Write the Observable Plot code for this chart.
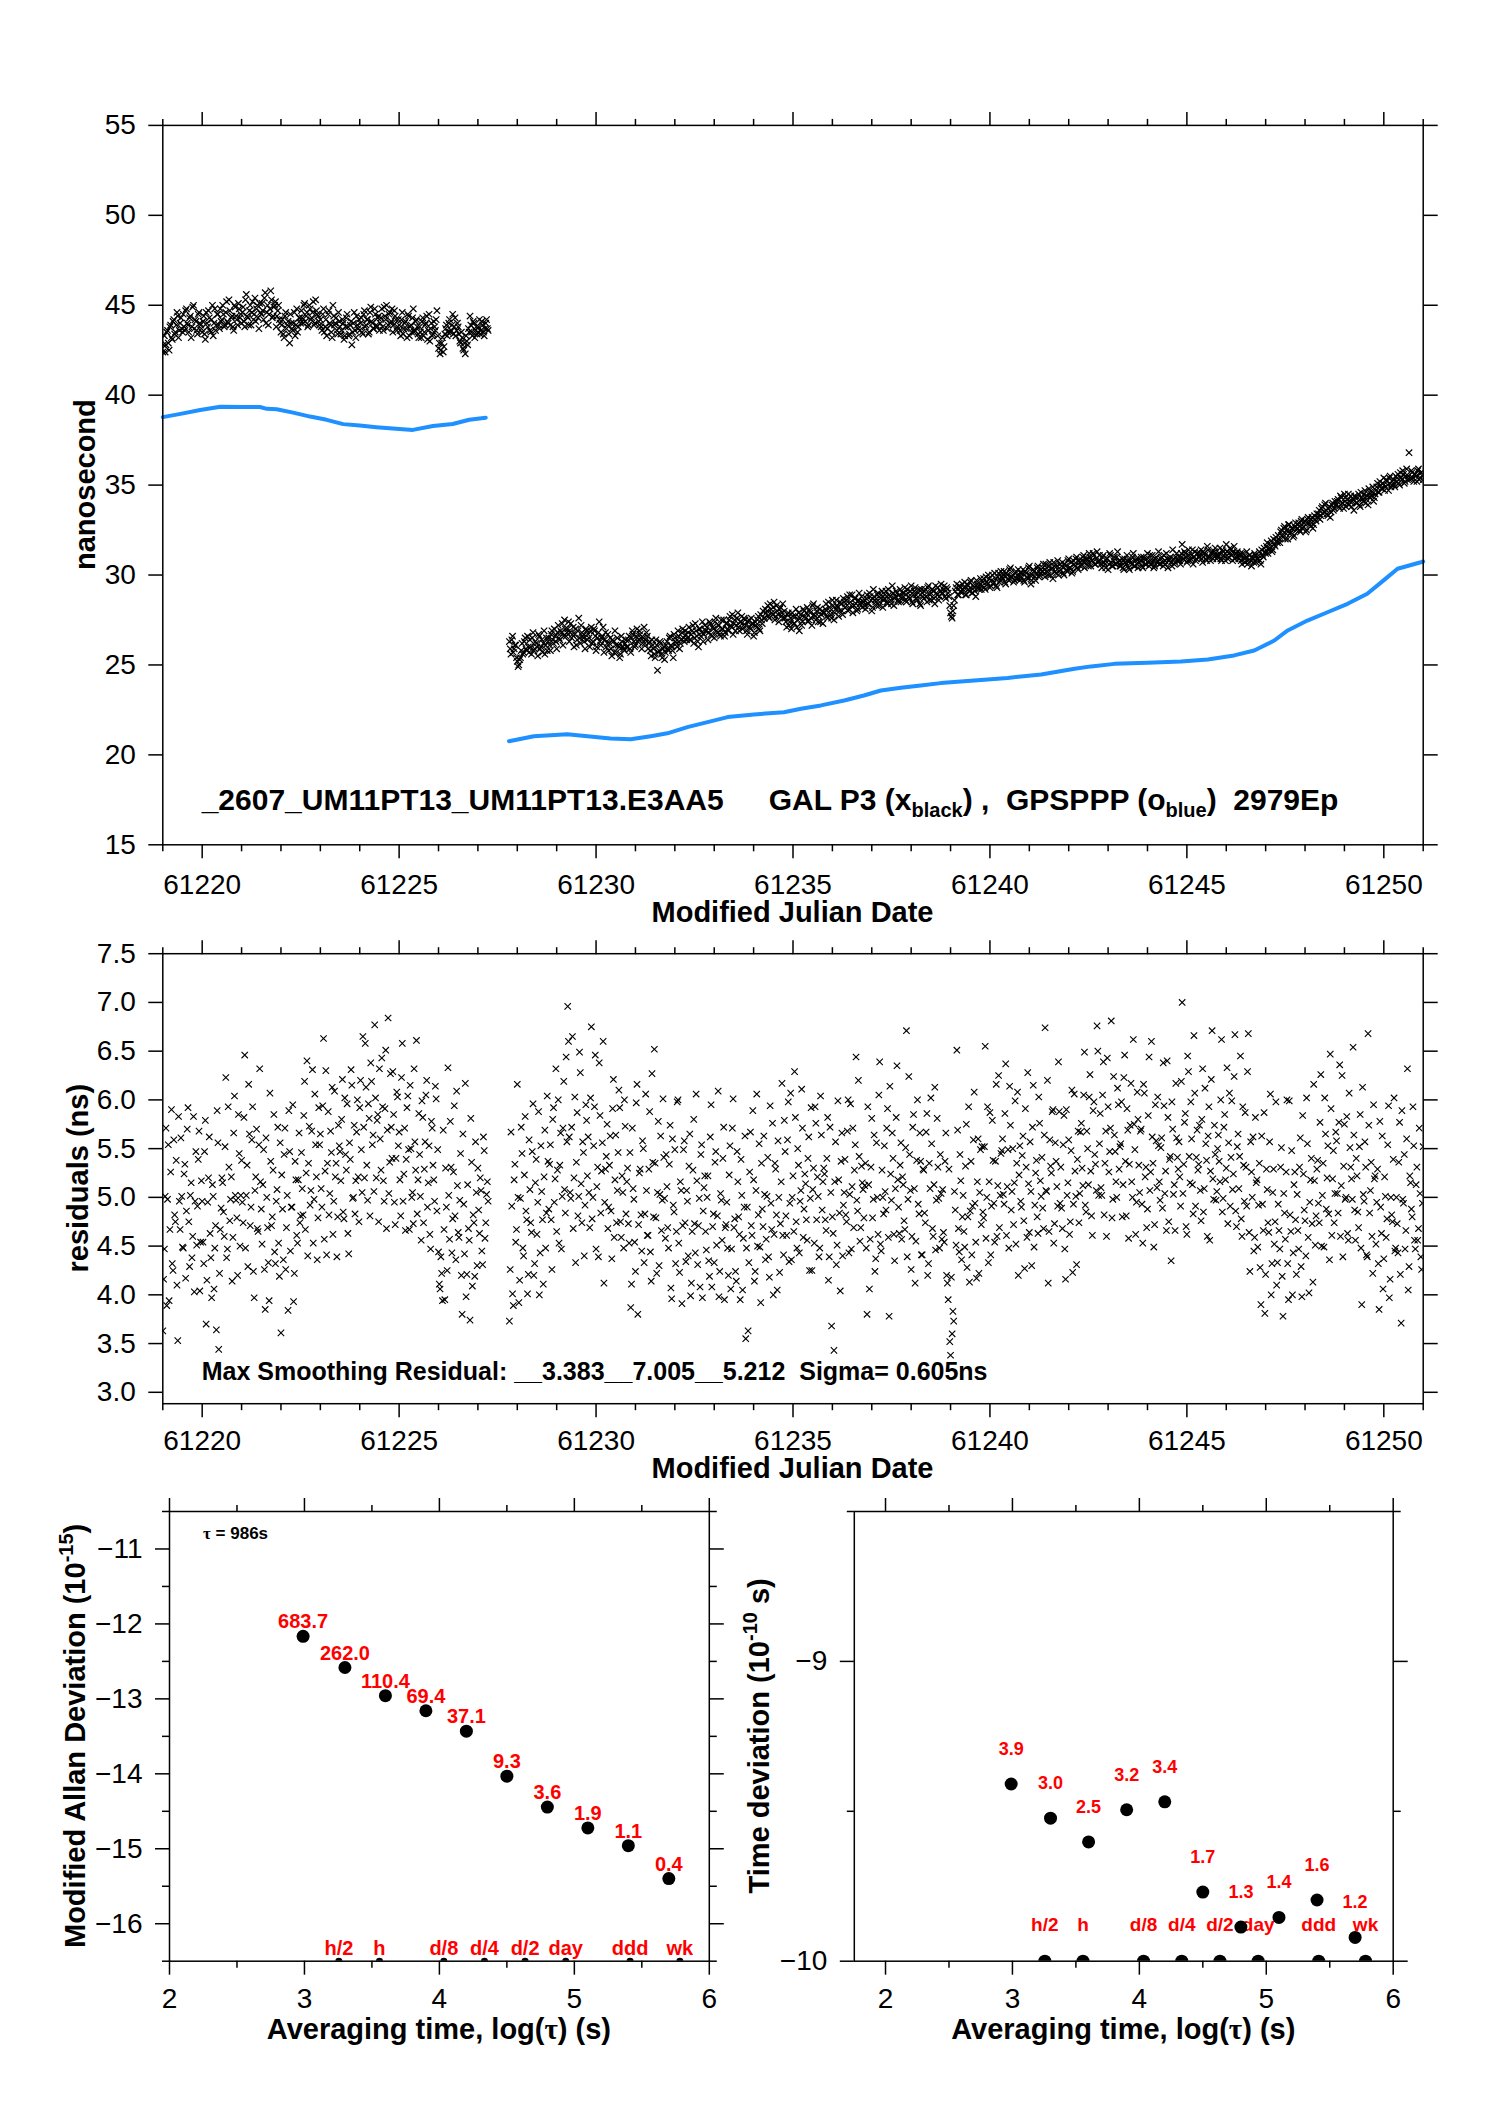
<!DOCTYPE html>
<html><head><meta charset="utf-8">
<script src="https://cdn.jsdelivr.net/npm/d3@7"></script>
<script src="https://cdn.jsdelivr.net/npm/@observablehq/plot@0.6"></script>
<style>
html,body{margin:0;padding:0;background:#fff;}
#page{position:relative;width:1488px;height:2105px;background:#fff;overflow:hidden;}
#page svg{position:absolute;overflow:visible;}
</style></head><body><div id="page"></div>
<script>
// ---------------- DATA ----------------
const sampleStep = 0.04;           // days between samples of one series
const interleave = 0.02;           // second sample set sits halfway between
const seg1Start = 61219.00;
const seg2Start = 61227.80;

// residuals (ns), segment 1 and segment 2 (set A)
const resid1 = [
3.63,4.47,5.71,4.98,3.94,5.26,4.32,5.59,4.75,4.10,5.83,4.67,5.01,4.48,5.34,4.86,5.92,4.29,5.15,4.60,4.03,5.47,4.91,5.68,4.54,
4.96,4.32,5.79,4.15,5.20,4.63,3.97,5.01,4.48,3.64,5.56,4.22,4.89,5.15,4.60,6.23,4.47,5.31,4.98,4.14,5.66,5.02,4.79,5.85,4.50,
5.38,4.74,6.46,5.02,4.29,5.65,4.90,5.93,3.97,5.21,4.68,5.54,5.16,4.52,5.49,3.85,5.00,4.33,6.07,4.71,5.28,4.44,4.96,5.72,4.19,
3.61,4.88,5.44,4.26,5.02,5.89,4.45,4.90,3.93,5.37,4.61,5.18,4.74,5.46,4.82,6.19,5.25,4.40,5.73,5.07,6.31,4.98,5.54,4.36,5.92,
5.65,4.90,6.63,5.27,4.41,5.88,5.04,5.46,4.62,6.09,5.35,4.80,5.53,5.17,6.21,4.78,5.44,5.96,4.42,5.39,6.15,5.00,4.83,5.67,5.21,
5.92,5.49,6.65,5.20,6.13,4.97,5.81,6.38,5.54,5.06,6.02,5.79,4.75,5.60,6.43,5.17,5.91,4.68,6.84,5.36,5.72,6.29,4.95,5.40,6.03,
5.67,4.81,6.58,5.24,4.66,5.92,5.49,6.15,5.00,4.73,5.57,6.61,5.18,5.44,4.56,5.82,5.29,6.05,4.90,5.53,4.47,5.71,5.18,6.14,4.86,
4.44,4.06,4.22,5.69,3.95,4.90,6.33,4.57,5.31,4.78,5.94,4.36,5.12,4.59,5.45,3.80,4.93,6.17,4.21,4.68,3.74,5.36,4.82,4.19,5.05,
5.30,4.63,5.07,4.31,5.48,4.74,5.16];
const resid2 = [
3.73,5.67,4.01,5.18,4.54,6.16,3.92,4.99,5.45,4.40,5.83,4.77,4.21,5.08,4.64,5.96,4.32,5.39,4.95,4.00,5.53,4.77,5.21,4.48,6.04,
4.88,5.54,4.26,5.92,5.19,4.65,6.00,5.33,4.47,5.71,5.08,6.44,6.96,5.62,4.99,6.65,5.20,4.33,5.87,5.01,6.28,4.74,5.46,4.92,5.79,
5.62,4.69,6.75,5.00,5.93,4.47,5.31,6.38,4.84,5.56,4.12,5.29,5.75,4.90,5.63,4.37,6.21,5.18,4.74,5.46,5.92,4.59,5.05,6.00,4.83,
5.30,4.53,3.87,5.71,4.98,4.24,6.16,4.72,5.29,4.45,5.50,4.83,5.07,4.61,5.88,4.14,5.36,6.52,4.79,5.05,4.30,5.63,4.97,5.41,4.58,
5.11,4.48,5.74,3.96,4.92,5.49,4.65,6.00,4.23,5.07,4.71,5.58,4.34,4.96,5.32,3.99,4.65,5.80,4.43,5.17,4.71,4.08,5.54,4.86,5.22,
4.46,5.22,4.19,5.95,4.70,4.33,5.47,4.81,3.98,5.04,4.56,5.72,4.69,4.95,4.20,5.53,4.47,6.01,4.78,4.14,5.16,4.62,5.39,4.05,4.90,
3.55,4.90,4.33,5.67,4.61,5.18,4.24,6.06,4.82,4.49,5.35,4.70,5.03,4.57,5.41,4.18,4.94,5.76,4.62,5.29,4.05,5.00,4.73,6.17,4.41,
5.47,4.61,5.98,4.94,4.36,5.22,6.29,4.75,5.50,4.43,5.07,5.71,4.88,5.14,4.56,5.62,4.99,4.25,5.30,5.93,4.77,5.01,4.48,5.64,5.16,
5.24,4.66,5.82,4.39,5.05,4.80,3.43,5.57,4.51,5.18,4.04,5.66,4.92,5.39,4.75,6.00,5.03,4.47,5.71,5.28,6.44,4.86,5.42,4.69,5.15,
4.79,5.35,3.80,5.13,4.57,5.81,4.98,4.24,5.56,4.62,6.39,4.45,5.00,5.53,4.87,5.91,3.78,5.24,5.66,4.62,5.09,6.35,4.90,5.33,4.57,
5.13,4.67,6.71,4.98,5.44,4.26,5.72,5.09,4.55,6.00,4.83,5.37,4.41,5.28,4.74,5.86,4.32,5.09,5.55,4.60,6.13,4.97,5.31,4.48,5.04,
5.08,4.54,5.66,4.12,5.29,3.38,3.60,3.73,4.87,6.51,4.68,5.44,4.36,5.02,4.49,5.75,4.80,4.13,5.37,4.91,6.08,4.54,5.16,4.22,5.49,
5.52,4.79,6.55,5.00,4.33,5.87,4.91,5.38,4.54,6.16,5.12,4.69,5.45,5.60,4.93,6.37,5.11,4.48,5.74,5.06,4.72,5.99,5.35,4.20,5.53,
4.90,5.63,4.27,5.31,6.28,4.64,5.06,5.72,4.49,5.25,4.80,6.03,5.17,5.41,4.68,6.74,5.06,4.12,5.59,5.25,5.90,4.73,5.37,4.91,5.88,
5.31,4.68,5.84,4.16,5.02,5.59,4.75,6.10,4.93,5.27,4.31,5.68,5.04,5.76,5.12,6.49,4.85,5.50,6.03,5.27,4.61,5.98,5.34,6.76,5.02,
5.86,5.02,6.39,5.35,4.60,5.93,5.47,6.81,4.98,5.64,5.16,6.12,5.29,5.55,4.80,6.23,5.37,5.91,4.58,5.74,5.16,6.62,5.49,4.95,5.80,
5.05,5.70,4.53,6.07,5.31,4.88,6.44,5.26,5.62,4.49,5.95,5.10,5.53,4.97,5.61,6.38,5.04,4.66,5.82,5.39,4.35,5.70,5.13,6.17,5.41,
5.57,4.91,7.00,5.34,5.86,4.62,6.29,5.15,5.60,4.83,6.07,5.41,5.28,5.74,4.76,6.32,5.09,5.55,4.60,5.93,5.27,6.71,4.98,5.44,5.06,
5.64,5.16,6.62,4.99,5.85,5.30,4.73,6.07,5.41,5.08,6.24,4.86,5.52,5.09,6.45,4.60,5.33,5.87,4.91,6.68,4.24,5.26,5.62,4.59,5.15,
4.49,5.35,3.90,4.93,5.87,4.21,5.08,4.64,6.06,4.32,5.29,4.75,4.10,4.93,4.47,5.51,3.78,4.84,5.26,4.32,5.99,4.65,4.00,5.13,4.77,
5.03,4.47,5.61,3.98,5.24,4.76,6.02,4.59,4.95,5.40,4.13,5.17,4.81,5.38,4.74,6.26,5.02,4.49,5.65,5.20,4.83,6.47,4.61,5.48,5.04,
5.58,4.84,6.36,5.12,4.39,5.75,5.00,4.63,6.07,5.31,4.98,5.64,4.56,5.22,4.69,5.85,3.90,5.03,5.57,4.41,6.68,4.84,5.36,4.22,5.19,
4.52,5.29,3.85,4.90,5.63,4.37,5.01,4.78,5.94,4.16,4.82,5.39,4.45,5.00,4.43,5.77,3.71,4.98,5.44,4.66,6.32,4.29,5.15,4.80,5.53,
4.47,5.31,4.68,5.04,4.26,5.52];
// residuals, set B (interleaved samples)
const resid1b = [
4.16,5.01,3.89,5.54,4.67,5.90,4.25,4.82,5.38,3.53,4.96,5.61,4.49,5.24,4.17,5.70,4.75,5.02,4.38,5.83,4.96,4.51,5.39,4.04,5.17,
4.54,5.47,3.70,4.95,5.62,4.38,5.13,4.06,4.71,5.89,3.44,4.67,5.20,4.85,5.52,4.38,5.93,4.76,5.21,4.59,6.04,4.97,4.20,5.45,5.02,
4.95,5.82,4.48,5.33,6.16,4.71,5.59,4.24,5.07,5.70,4.65,6.32,4.88,5.13,4.26,5.61,4.69,3.94,5.37,4.80,5.85,4.32,5.08,4.53,5.56,
5.23,4.36,5.71,4.69,3.84,5.47,4.90,5.95,4.22,5.18,4.53,5.66,4.81,5.09,5.84,4.67,6.40,5.35,4.92,5.68,4.53,6.06,5.21,4.79,5.54,
5.09,5.94,4.57,6.30,5.35,4.82,5.68,6.13,4.96,5.21,4.39,5.74,5.47,5.80,4.85,6.02,5.28,4.63,5.56,6.31,4.99,5.74,5.17,6.00,4.75,
6.20,5.05,5.72,6.58,5.33,5.96,4.81,6.19,5.64,6.77,5.20,5.85,6.32,5.28,5.93,4.96,6.51,5.69,5.04,6.27,5.40,5.85,4.72,6.08,5.53,
5.18,6.23,4.96,5.71,5.39,6.04,4.67,5.50,5.05,6.32,5.28,4.83,5.86,5.01,5.99,4.74,5.57,6.20,5.15,4.62,5.78,5.33,4.96,6.01,5.49,
4.11,4.39,3.94,4.67,5.30,4.25,5.02,5.78,4.43,5.26,4.81,6.09,4.64,4.97,4.20,5.65,4.42,3.98,5.13,4.56,5.81,4.09,4.74,5.57,4.30,
4.87,5.20,4.45,5.62,4.58,5.03,4.96];
const resid2b = [
4.26,4.91,3.89,5.34,4.67,5.00,4.15,5.72,4.48,5.23,4.86,4.01,5.59,4.74,5.47,4.20,5.15,4.62,5.88,4.43,5.06,4.11,5.69,4.84,5.37,
5.34,4.77,5.80,4.95,6.32,5.28,4.53,5.66,5.01,6.19,4.84,5.57,6.60,5.05,5.72,4.68,6.03,5.36,4.81,6.49,5.14,5.57,4.40,5.95,5.22,
5.05,6.02,4.78,5.53,6.46,5.11,4.39,5.84,5.27,6.60,4.95,5.42,4.68,5.33,4.86,5.91,4.59,5.64,5.07,6.10,4.75,5.22,4.48,5.73,5.16,
4.73,5.46,4.11,5.09,4.54,5.97,3.80,5.25,4.82,5.58,4.33,6.06,4.61,5.29,4.44,6.27,4.80,5.35,4.22,5.78,5.03,4.66,6.01,4.99,5.44,
4.69,5.34,4.07,5.60,4.85,4.32,5.98,4.53,5.16,3.91,5.49,4.74,5.07,4.40,5.65,4.12,5.28,4.73,6.06,4.31,4.99,5.44,3.97,5.10,4.65,
5.00,4.35,5.62,4.08,4.83,5.36,4.51,6.09,4.24,4.97,5.40,3.95,4.72,4.48,5.23,4.06,5.71,4.69,4.24,5.47,4.80,3.95,5.02,4.58,5.63,
4.48,3.63,5.26,4.71,5.89,4.14,5.07,4.50,5.55,3.92,4.88,5.63,4.36,5.01,4.39,5.94,4.67,4.00,5.35,4.82,5.58,4.23,5.16,4.61,5.79,
4.81,5.59,4.34,6.07,5.00,4.65,5.82,4.48,5.33,4.96,6.11,4.59,5.24,4.77,5.40,4.25,5.92,5.08,4.53,5.76,5.21,4.39,6.04,4.87,5.30,
4.77,5.40,4.15,5.72,3.68,4.63,5.16,4.31,5.99,4.84,5.37,4.40,5.05,4.82,5.68,4.43,5.96,5.11,4.69,5.54,4.97,6.20,4.55,5.32,5.08,
5.12,4.48,5.93,4.06,5.31,4.79,5.64,4.37,5.00,6.05,4.52,5.28,4.83,5.06,5.71,4.59,6.14,4.97,5.40,4.35,5.82,5.18,4.63,5.56,5.21,
4.76,5.51,4.39,6.24,5.07,4.60,5.85,4.12,5.38,4.93,5.66,4.41,5.29,4.84,5.67,4.20,5.35,6.02,4.68,5.13,4.46,5.81,4.99,5.44,4.57,
4.64,5.37,4.20,3.95,3.52,4.18,3.83,5.06,4.51,5.69,4.44,5.17,4.80,4.65,5.32,4.28,5.93,4.86,4.41,5.59,4.94,4.17,5.60,5.05,4.72,
4.85,5.52,4.58,5.93,5.16,4.41,5.79,4.94,5.37,4.60,6.25,5.02,5.48,5.03,5.86,4.61,5.49,6.14,4.87,5.50,5.15,4.52,6.08,5.23,4.96,
5.43,4.76,5.91,4.59,5.14,5.57,4.30,6.15,4.92,5.38,4.63,5.76,5.01,4.89,5.64,5.07,6.20,4.65,5.32,5.88,4.53,5.56,5.11,6.39,4.94,
4.89,5.54,4.47,5.90,5.15,4.62,5.48,4.23,6.06,5.01,5.39,4.74,5.67,5.30,6.05,4.92,5.68,5.13,6.26,4.81,5.89,5.44,5.07,6.50,5.55,
5.10,6.05,4.82,5.68,6.43,5.26,5.71,4.79,6.24,5.47,5.00,5.95,5.52,5.98,5.13,6.46,4.81,5.69,5.34,6.17,5.00,5.75,4.62,6.08,5.33,
5.68,4.93,6.16,5.21,4.69,5.84,5.07,6.60,5.35,4.72,5.58,6.03,5.16,5.51,4.89,5.94,5.27,6.40,4.75,5.42,5.98,5.03,4.66,5.61,5.29,
5.21,6.19,5.04,5.77,4.70,6.45,5.42,5.98,5.13,6.66,4.91,5.69,5.34,5.07,5.80,4.85,6.12,5.38,5.63,4.56,6.21,5.19,5.74,4.97,5.50,
5.37,6.00,4.85,5.72,5.18,6.33,5.56,4.91,5.99,5.24,6.67,4.70,5.65,5.42,4.78,5.93,4.96,5.31,6.29,4.64,5.57,5.00,4.45,5.82,5.18,
4.92,4.28,5.63,4.66,3.81,5.29,4.74,5.57,4.00,5.05,4.52,5.98,4.33,4.66,5.31,4.19,5.04,4.57,6.00,3.95,4.82,5.48,4.43,5.26,4.21,
4.66,5.31,4.29,5.84,4.87,4.40,5.55,4.02,5.18,4.73,6.16,4.51,5.29,4.94,5.77,4.50,5.35,6.02,4.88,5.53,4.36,5.91,5.19,4.74,5.67,
5.04,5.77,4.60,6.25,5.32,4.98,5.83,4.56,5.51,5.19,6.54,4.87,5.40,4.85,5.52,4.48,6.13,4.96,5.31,4.39,5.74,5.07,4.60,5.95,5.22,
4.95,4.32,5.78,4.63,4.06,5.21,4.59,5.54,3.97,5.00,4.75,6.02,4.48,4.73,5.36,4.21,5.89,4.94,4.47,5.60,4.05,5.22,4.88,5.93,4.56,
5.13,4.56,5.71,4.39,4.94];

// GAL P3 (black x) time offsets (ns), set A
const black1 = [
42.4,43.3,42.8,43.6,42.5,43.9,43.1,44.2,43.5,44.6,43.2,44.0,43.7,44.5,43.6,44.8,43.9,44.3,43.2,44.9,43.7,44.1,43.4,44.6,43.9,
43.5,44.4,43.1,44.0,44.7,43.6,44.2,43.3,44.8,43.9,44.5,43.7,44.1,45.0,43.8,44.6,44.1,45.3,43.9,44.4,43.6,44.9,44.2,45.1,44.3,
44.0,44.9,43.8,45.6,44.3,44.7,43.9,45.2,44.5,44.1,45.0,43.7,44.6,45.1,44.2,45.7,44.6,43.9,44.8,45.3,44.4,45.0,43.8,44.7,44.2,
43.5,44.2,43.2,44.6,43.9,43.4,44.5,43.7,44.0,43.3,44.8,43.8,44.3,44.7,44.0,45.1,44.4,43.8,45.0,44.2,44.6,43.9,45.3,44.5,44.1,
44.2,43.6,44.8,43.8,43.3,44.5,44.0,43.5,45.0,43.9,44.3,43.4,44.1,43.4,44.2,43.1,43.8,44.5,43.3,43.9,42.8,44.0,43.6,44.4,43.7,
43.6,44.3,43.4,44.7,43.9,44.2,43.5,44.9,44.0,43.7,44.5,43.8,44.4,44.0,44.8,43.6,44.4,45.0,43.9,44.6,44.1,43.5,44.7,44.2,43.8,
43.9,43.3,44.6,43.7,44.1,43.2,44.4,43.8,43.5,44.8,43.6,44.2,43.4,43.8,43.2,44.3,43.5,44.0,43.1,44.5,43.7,43.3,44.1,43.6,44.7,
42.6,42.3,42.9,42.4,43.4,43.9,43.5,44.2,43.6,44.5,43.8,43.3,44.0,43.4,42.9,43.2,42.5,42.3,43.0,43.7,44.4,43.5,44.1,43.2,43.8,
43.5,44.2,43.6,43.9,43.3,44.0,43.7];
const black2 = [
26.3,25.6,26.6,25.9,26.1,25.2,25.0,25.4,26.2,25.7,26.5,25.8,26.0,26.4,25.6,26.8,25.9,26.2,25.5,26.6,26.0,25.7,26.9,26.1,25.8,
26.5,25.8,26.9,26.2,26.6,25.9,27.2,26.4,26.8,26.1,27.5,26.6,27.0,26.3,27.3,26.7,26.0,27.0,26.4,27.6,26.2,26.8,26.5,25.9,26.9,
26.7,26.0,27.1,26.3,26.9,25.8,26.5,27.4,26.1,26.6,25.7,26.8,26.2,25.8,26.5,25.5,26.3,26.9,25.7,26.1,25.4,26.6,26.0,25.8,26.4,
26.0,26.6,25.7,26.9,26.3,26.1,27.0,26.4,26.7,25.9,26.5,26.2,26.8,25.9,26.3,25.5,26.1,25.6,26.4,24.7,25.8,26.2,25.4,26.0,25.7,
26.3,25.8,26.6,26.0,25.4,26.5,26.2,26.9,25.9,26.4,27.0,26.3,26.7,26.5,27.1,26.4,26.9,26.2,27.3,26.6,26.0,27.0,26.8,26.3,27.2,
26.9,26.4,27.4,26.7,27.1,26.5,27.6,26.8,27.2,26.6,27.0,27.5,26.8,27.3,26.9,27.7,27.1,26.7,27.5,27.2,27.9,26.9,27.4,27.0,27.6,
27.2,26.7,27.5,27.0,27.3,26.6,27.4,27.1,27.7,26.9,27.5,28.0,27.6,27.9,28.3,27.6,28.1,27.8,28.5,27.7,28.0,27.4,28.2,27.9,27.6,
27.6,27.1,27.9,27.4,27.0,27.7,27.3,28.1,27.5,26.9,27.8,27.4,28.0,27.6,28.2,27.5,27.9,27.2,28.4,27.7,28.0,27.4,28.1,27.8,27.3,
27.9,28.4,27.6,28.2,27.8,28.6,27.5,28.1,28.3,27.7,28.5,28.0,28.7,28.2,28.6,28.0,28.9,28.3,27.9,28.7,28.4,28.1,29.0,28.5,28.2,
28.5,28.1,28.9,28.4,28.8,28.0,29.2,28.6,28.3,29.0,28.5,28.9,28.2,28.7,29.1,28.4,28.9,28.6,29.4,28.3,28.8,29.0,28.5,29.2,28.7,
28.8,29.3,28.5,29.0,28.7,29.4,28.4,29.1,28.9,28.6,29.2,28.3,29.0,28.7,29.2,28.5,29.4,28.9,28.6,29.1,28.4,29.0,29.3,28.8,29.5,
29.0,29.4,28.7,29.2,28.8,27.9,27.6,28.3,29.1,29.5,28.9,29.3,29.0,29.2,29.6,28.9,29.4,29.1,29.7,29.0,29.3,28.8,29.5,29.2,29.8,
29.4,29.8,29.2,29.6,30.0,29.3,29.7,29.5,30.1,29.4,29.9,29.6,30.2,29.8,30.2,29.5,30.0,29.7,30.4,29.9,29.6,30.1,29.8,30.3,29.7,
29.9,30.3,29.6,30.1,29.8,30.5,29.5,30.0,30.2,29.7,30.4,29.9,30.1,30.2,30.6,29.9,30.4,30.0,30.7,30.3,29.8,30.5,30.1,30.8,30.2,
30.3,30.7,30.0,30.5,30.2,30.9,30.4,30.1,30.8,30.5,31.0,30.3,30.7,30.6,31.0,30.4,30.9,30.7,31.2,30.5,30.8,31.1,30.6,31.3,30.8,
30.8,30.4,31.1,30.6,30.9,30.3,31.2,30.7,30.5,31.0,30.6,31.3,30.8,30.5,30.9,30.3,30.7,31.1,30.4,30.8,30.6,31.2,30.5,30.9,30.4,
30.7,31.0,30.4,30.9,30.6,31.2,30.5,30.8,31.1,30.4,30.9,30.7,31.3,30.6,31.0,30.5,30.8,31.2,30.4,30.9,30.7,31.4,30.6,31.0,30.8,
31.0,30.6,31.7,30.9,31.2,30.7,31.4,30.8,31.1,30.6,31.3,30.9,31.2,31.0,31.4,30.7,31.2,30.9,31.6,31.0,30.8,31.3,31.1,31.5,30.9,
31.1,31.5,30.8,31.3,31.0,31.7,30.9,31.2,31.4,30.8,31.6,31.0,31.3,30.9,31.2,30.6,31.0,30.7,31.3,30.8,31.1,30.5,30.9,31.2,30.7,
30.9,31.3,30.6,31.1,31.5,31.2,31.8,31.4,31.7,31.3,32.0,31.6,31.9,32.2,31.8,32.5,32.1,32.7,32.3,32.0,32.8,32.4,32.6,32.2,32.9,
32.6,32.9,32.4,33.1,32.7,33.0,32.5,33.2,32.8,33.1,32.6,33.3,33.0,33.2,33.6,33.3,33.8,33.5,34.0,33.4,33.7,33.2,33.9,33.6,34.1,
33.9,34.2,33.7,34.3,34.0,34.5,33.8,34.2,33.9,34.4,34.1,33.6,34.3,34.0,34.5,33.8,34.3,34.1,34.7,34.2,33.9,34.6,34.4,34.9,34.3,
34.7,35.1,34.6,35.0,34.8,35.4,34.9,35.2,34.7,35.5,35.0,35.3,34.9,35.2,35.6,35.0,35.4,35.8,35.1,35.5,35.3,36.8,35.4,35.7,35.2,
35.6,35.2,35.9,35.4,35.7,35.3];
// GAL P3, set B (interleaved samples)
const black1b = [
42.8,42.4,43.5,42.9,43.8,43.2,44.1,43.4,43.9,44.4,43.6,44.3,43.5,43.8,44.7,44.0,43.5,44.4,43.8,45.0,44.2,43.6,44.5,44.0,43.7,
44.1,43.4,44.6,43.8,44.3,43.5,45.0,44.0,43.6,44.5,43.9,44.8,44.2,44.5,43.9,45.2,44.0,44.7,44.3,43.8,45.0,44.4,43.9,44.8,44.5,
44.6,44.1,45.3,44.4,43.9,45.0,44.6,44.2,45.4,44.8,44.3,45.1,44.5,44.7,45.4,44.0,45.0,44.5,45.8,44.3,44.9,45.2,44.4,45.0,44.0,
43.9,43.4,44.4,43.7,44.1,42.9,44.0,43.6,44.6,43.9,43.5,44.3,44.0,44.3,45.0,44.1,44.6,43.9,44.8,44.3,45.2,44.0,44.7,44.4,43.9,
43.8,44.5,43.5,44.2,43.7,44.7,43.9,43.2,44.4,44.0,43.6,44.6,43.8,43.6,44.0,43.3,44.3,43.8,43.4,44.1,43.5,44.6,43.2,43.9,44.2,
44.0,43.5,44.5,43.8,44.2,43.4,44.6,44.1,43.7,44.8,43.9,44.3,43.6,44.3,43.8,44.9,44.2,43.7,44.5,44.0,44.8,43.9,44.4,43.6,44.2,
43.6,44.2,43.4,44.0,43.7,44.5,43.3,43.9,44.3,43.5,44.1,43.8,43.2,43.5,44.1,43.3,43.9,44.4,43.6,43.0,44.0,43.4,43.8,44.2,43.3,
42.9,42.5,43.2,42.7,43.7,43.3,44.0,43.5,43.9,43.4,44.3,43.6,43.8,43.0,43.5,42.6,42.9,43.3,42.8,43.5,43.9,43.3,44.0,43.6,43.4,
43.8,43.4,44.1,43.5,43.7,44.2,43.6];
const black2b = [
25.9,26.4,25.7,26.1,25.4,24.9,25.3,25.8,25.6,26.3,25.9,26.6,25.7,26.0,26.5,25.8,26.3,26.0,26.7,25.9,26.4,26.2,25.6,26.5,26.3,
26.1,26.7,26.4,27.0,26.3,26.8,26.5,26.9,27.3,26.6,27.0,26.8,27.4,26.8,26.5,27.1,26.7,26.1,26.9,26.5,27.2,26.6,26.3,27.0,26.4,
26.5,26.9,26.2,27.0,26.6,26.0,26.8,26.3,26.5,27.1,26.4,26.0,26.7,26.2,25.9,26.4,25.7,26.1,26.5,26.0,25.6,26.3,25.9,26.2,26.0,
26.4,25.9,26.5,26.7,26.0,26.6,26.3,26.9,26.5,26.2,27.1,26.4,26.6,26.2,25.8,26.4,25.9,25.4,26.1,25.7,26.3,25.6,25.9,25.3,26.1,
25.9,26.5,26.1,25.8,26.7,26.3,26.0,26.6,26.2,26.8,26.5,26.9,26.4,26.8,26.4,26.7,27.2,26.5,26.9,26.3,27.0,26.6,27.4,26.7,26.9,
27.1,26.8,27.3,26.6,27.0,27.4,26.9,27.2,26.7,27.5,27.0,26.6,27.3,27.0,27.5,27.2,27.8,27.3,26.9,27.6,27.1,27.4,27.7,27.2,27.5,
26.9,27.4,27.1,27.6,27.3,26.8,27.2,27.5,27.0,27.8,27.3,27.6,28.1,28.0,27.7,28.4,27.9,28.2,27.5,28.3,27.8,28.1,27.7,28.4,28.0,
27.4,27.8,27.2,27.6,27.9,27.3,27.7,27.1,27.9,27.6,27.2,28.1,27.7,27.9,27.4,28.0,27.6,28.3,27.8,27.5,28.2,27.7,27.4,28.0,27.9,
28.1,27.7,28.5,28.0,27.6,28.3,27.9,28.6,28.2,28.0,28.4,27.8,28.5,28.4,28.8,28.1,28.5,28.9,28.3,28.7,28.0,28.6,28.4,28.8,28.5,
28.3,28.7,28.4,29.0,28.6,28.2,28.8,28.5,28.9,28.3,28.7,29.1,28.6,28.9,28.5,29.2,28.8,28.4,29.0,28.7,29.1,28.6,28.9,28.5,29.0,
29.0,28.6,29.2,28.8,29.1,28.5,28.9,29.3,28.7,29.0,28.4,29.2,28.8,29.1,28.8,29.3,28.6,29.0,29.2,28.7,29.4,28.9,28.6,29.1,29.0,
29.2,28.8,29.3,29.0,28.3,27.7,28.0,28.6,29.3,28.9,29.4,29.1,29.5,29.3,28.9,29.5,29.2,29.6,29.0,29.4,29.1,29.7,29.3,29.5,29.2,
29.6,29.3,29.9,29.5,29.8,29.4,30.0,29.6,29.8,29.3,30.1,29.7,29.9,30.0,29.6,30.1,29.8,30.3,29.9,30.0,29.7,30.2,30.0,29.8,30.1,
30.1,29.7,30.2,29.9,30.4,30.0,29.7,30.3,29.9,30.1,30.5,30.0,30.3,30.4,30.1,30.6,30.2,30.5,30.0,30.4,30.7,30.2,30.5,30.0,30.6,
30.5,30.1,30.6,30.3,30.8,30.4,30.7,30.2,30.6,30.9,30.4,30.8,30.5,30.8,31.1,30.7,30.9,30.5,31.0,30.8,31.2,30.6,30.9,30.7,31.1,
30.6,31.0,30.7,30.4,30.9,30.6,31.1,30.5,30.8,30.6,31.0,30.7,30.5,30.7,30.4,30.9,30.6,30.8,30.3,30.7,31.0,30.5,30.8,30.6,30.9,
30.8,30.5,31.0,30.6,30.9,30.7,31.1,30.6,30.8,30.5,31.0,30.8,30.6,30.9,30.7,31.1,30.6,30.9,30.8,31.0,30.5,30.9,30.7,31.2,30.8,
30.8,31.2,30.9,31.3,31.0,30.8,31.1,30.9,31.4,31.0,30.8,31.2,31.0,31.2,30.9,31.3,31.1,30.8,31.4,31.0,31.2,30.9,31.3,31.1,31.0,
31.2,30.9,31.4,31.1,30.8,31.3,31.0,31.5,31.1,31.3,30.9,31.2,31.0,31.1,30.8,31.2,30.9,31.0,30.6,31.1,30.8,31.0,30.7,31.1,30.9,
31.1,30.8,31.4,31.0,31.3,31.6,31.2,31.5,31.9,31.4,31.7,32.1,31.8,32.0,32.4,32.2,32.6,32.0,32.5,32.8,32.3,32.6,32.1,32.7,32.5,
32.8,32.5,33.0,32.6,32.9,32.4,33.1,32.9,32.7,33.2,32.8,33.1,33.4,33.4,33.1,33.7,33.4,33.9,33.6,33.3,33.8,33.5,34.0,33.7,33.9,
34.1,33.8,34.4,34.0,33.7,34.3,34.0,34.5,34.1,33.8,34.2,34.4,34.0,34.3,33.9,34.6,34.2,34.5,34.0,34.4,34.8,34.3,34.6,34.1,34.5,
34.9,34.6,35.2,34.8,35.1,34.7,35.3,35.0,35.4,34.9,35.2,35.0,35.5,35.4,35.1,35.7,35.3,35.6,35.2,35.9,35.5,35.3,35.8,35.4,35.6,
35.5,35.8,35.3,35.7,35.5];

// GPSPPP (blue) time offsets
const blueT1 = [61219.00,61219.45,61219.95,61220.46,61221.05,61221.47,61221.64,61221.89,61222.31,61222.74,61223.16,61223.58,61224.00,61224.42,61224.84,61225.35,61225.86,61226.36,61226.78,61227.20];
const blueV1 = [38.78,38.96,39.18,39.36,39.34,39.34,39.24,39.22,39.03,38.81,38.63,38.39,38.31,38.22,38.15,38.07,38.29,38.40,38.63,38.75];
const blueT2 = [61227.79,61228.42,61229.27,61229.78,61230.37,61230.88,61231.39,61231.81,61232.32,61232.83,61233.34,61234.01,61234.77,61235.20,61235.71,61236.30,61236.80,61237.23,61237.74,61238.24,61238.75,61239.60,61240.45,61241.30,61242.15,61242.57,61243.16,61244.00,61244.85,61245.53,61246.20,61246.71,61247.22,61247.56,61248.06,61248.57,61249.08,61249.58,61250.01,61250.35,61250.94,61251.00];
const blueV2 = [20.76,21.04,21.15,21.04,20.91,20.87,21.04,21.20,21.54,21.82,22.10,22.25,22.37,22.56,22.75,23.02,23.30,23.58,23.73,23.86,23.99,24.14,24.28,24.47,24.79,24.92,25.06,25.12,25.19,25.30,25.53,25.80,26.36,26.92,27.47,27.93,28.40,28.96,29.73,30.35,30.71,30.75];

// stability analysis
const logTau = [2.99,3.30,3.60,3.90,4.20,4.50,4.80,5.10,5.40,5.70];
const mdevValues = [683.7,262.0,110.4,69.4,37.1,9.3,3.6,1.9,1.1,0.4];   // x 1e-15
const tdevValues = [3.9,3.0,2.5,3.2,3.4,1.7,1.3,1.4,1.6,1.2];            // x 1e-10 s
const intervalNames = ["h/2","h","d/8","d/4","d/2","day","ddd","wk"];
const intervalLogTau = [3.255,3.556,4.033,4.334,4.635,4.936,5.413,5.782];

// axes
const mjdDomain = [61219, 61251];
const mjdMajorTicks = [61220,61225,61230,61235,61240,61245,61250];
const nsDomain = [15, 55];
const nsTicks = [15,20,25,30,35,40,45,50,55];
const resDomain = [2.883, 7.5];
const resTicks = [3.0,3.5,4.0,4.5,5.0,5.5,6.0,6.5,7.0,7.5];
const tauMajorTicks = [2,3,4,5,6];
const tauMinorTicks = [2.5,3.5,4.5,5.5];
const mdevDomain = [-16.5, -10.5];
const mdevTicks = [-16,-15,-14,-13,-12,-11];
const mdevMinorTicks = [-16.5,-15.5,-14.5,-13.5,-12.5,-11.5,-10.5];
const tdevDomain = [-10, -8.5];
const tdevTicks = [-10,-9];
const tdevMinorTicks = [-9.5,-8.5];

// ---------------- BUILD ----------------
const FONT = '"Liberation Sans", Arial, Helvetica, sans-serif';
const SERIF = '"Liberation Serif", "Times New Roman", serif';
const page = document.getElementById("page");
const mjdMinorTicks = d3.range(mjdDomain[0], mjdDomain[1] + 1).filter(d => !mjdMajorTicks.includes(d));

const series = (arr, start) => arr.map((v, i) => ({t: start + i * sampleStep, v}));
const residRows = [
  ...series(resid1, seg1Start), ...series(resid1b, seg1Start + interleave),
  ...series(resid2, seg2Start), ...series(resid2b, seg2Start + interleave)
];
const blackRows = [
  ...series(black1, seg1Start), ...series(black1b, seg1Start + interleave),
  ...series(black2, seg2Start), ...series(black2b, seg2Start + interleave)
];
const blueRows = [
  ...blueT1.map((t, i) => ({t, v: blueV1[i], seg: 1})),
  ...blueT2.map((t, i) => ({t, v: blueV2[i], seg: 2}))
];
const mdevRows = logTau.map((x, i) => ({x, y: Math.log10(mdevValues[i]) - 15, label: mdevValues[i].toFixed(1)}));
const tdevRows = logTau.map((x, i) => ({x, y: Math.log10(tdevValues[i]) - 10, label: tdevValues[i].toFixed(1)}));
const intervalRows = intervalNames.map((name, i) => ({x: intervalLogTau[i], name}));

const minus = d => d < 0 ? "\u2212" + Math.abs(d) : String(d);
const blank = () => "";

function frameAxes({xMajor, xMinor, yMajor, yMinor, xFmt, yFmt, xPad, yPad = 13}) {
  const c = {strokeWidth: 1.5, label: null};
  const m = [
    Plot.axisX({...c, anchor: "bottom", ticks: xMajor, tickSize: 14, tickPadding: xPad, tickFormat: xFmt, fontSize: 28}),
    Plot.axisX({...c, anchor: "top", ticks: xMajor, tickSize: 14, tickFormat: blank}),
    Plot.axisY({...c, anchor: "left", ticks: yMajor, tickSize: 14, tickPadding: yPad, tickFormat: yFmt, fontSize: 28}),
    Plot.axisY({...c, anchor: "right", ticks: yMajor, tickSize: 14, tickFormat: blank})
  ];
  if (xMinor) m.push(
    Plot.axisX({...c, anchor: "bottom", ticks: xMinor, tickSize: 7, tickFormat: blank}),
    Plot.axisX({...c, anchor: "top", ticks: xMinor, tickSize: 7, tickFormat: blank}));
  if (yMinor) m.push(
    Plot.axisY({...c, anchor: "left", ticks: yMinor, tickSize: 7, tickFormat: blank}),
    Plot.axisY({...c, anchor: "right", ticks: yMinor, tickSize: 7, tickFormat: blank}));
  return m;
}

const baseStyle = {background: "transparent", overflow: "visible", fontFamily: FONT, fontSize: "28px", color: "black"};

function place(svg, left, top) {
  svg.style.position = "absolute";
  svg.style.left = left + "px";
  svg.style.top = top + "px";
  svg.style.maxWidth = "none";
  page.appendChild(svg);
}

function addText(svg, x, y, parts, o = {}) {
  const t = d3.select(svg).append("text")
    .attr("transform", `translate(${x},${y})` + (o.rotate ? ` rotate(${o.rotate})` : ""))
    .attr("text-anchor", o.anchor || "middle")
    .attr("font-family", FONT)
    .attr("font-size", o.size || 29)
    .attr("font-weight", o.weight || "bold")
    .attr("fill", o.fill || "black")
    .style("white-space", "pre");
  for (const p of parts) {
    const q = typeof p === "string" ? {text: p} : p;
    const s = t.append("tspan").text(q.text);
    if (q.size) s.attr("font-size", q.size);
    if (q.dy) s.attr("dy", q.dy);
    if (q.family) s.attr("font-family", q.family);
  }
}

// ---- 1. time offsets ----
const p1 = Plot.plot({
  width: 1488, height: 856,
  marginLeft: 162.3, marginRight: 65.3, marginTop: 44.9, marginBottom: 91.7,
  style: baseStyle,
  x: {domain: mjdDomain, label: null},
  y: {domain: nsDomain, label: null},
  marks: [
    Plot.line(blueRows, {x: "t", y: "v", z: "seg", stroke: "#1e90ff", strokeWidth: 4}),
    Plot.dot(blackRows, {x: "t", y: "v", symbol: "times", r: 3, stroke: "black", strokeWidth: 1.2, clip: true}),
    ...frameAxes({xMajor: mjdMajorTicks, xMinor: mjdMinorTicks, yMajor: nsTicks, xFmt: d => String(d), yFmt: d => String(d), xPad: 15}),
    Plot.frame({strokeWidth: 1.5})
  ]
});
place(p1, 0, 80);
addText(p1, 792.5, 841.8, ["Modified Julian Date"]);
addText(p1, 95, 404.6, ["nanosecond"], {rotate: -90});
addText(p1, p1.scale("x").apply(61220), 729.5, ["_2607_UM11PT13_UM11PT13.E3AA5"], {anchor: "start", size: 30});
addText(p1, 768.7, 729.5, ["GAL P3 (x", {text: "black", size: 20, dy: 7}, {text: ") ,  GPSPPP (o", dy: -7}, {text: "blue", size: 20, dy: 7}, {text: ")  2979Ep", dy: -7}], {anchor: "start", size: 30});

// ---- 2. residuals ----
const p2 = Plot.plot({
  width: 1488, height: 554,
  marginLeft: 162.3, marginRight: 65.3, marginTop: 17.2, marginBottom: 86.8,
  style: baseStyle,
  x: {domain: mjdDomain, label: null},
  y: {domain: resDomain, label: null},
  marks: [
    Plot.dot(residRows, {x: "t", y: "v", symbol: "times", r: 3, stroke: "black", strokeWidth: 1.1, clip: true}),
    ...frameAxes({xMajor: mjdMajorTicks, xMinor: mjdMinorTicks, yMajor: resTicks, xFmt: d => String(d), yFmt: d => d.toFixed(1), xPad: 12.5}),
    Plot.frame({strokeWidth: 1.5})
  ]
});
place(p2, 0, 936);
addText(p2, 792.5, 542, ["Modified Julian Date"]);
addText(p2, 88, 242.2, ["residuals (ns)"], {rotate: -90});
addText(p2, p2.scale("x").apply(61220), 444, ["Max Smoothing Residual: __3.383__7.005__5.212  Sigma= 0.605ns"], {anchor: "start", size: 25});

// ---- 3. modified Allan deviation ----
const p3 = Plot.plot({
  width: 744, height: 615,
  marginLeft: 169, marginRight: 35.2, marginTop: 21, marginBottom: 144.3,
  style: baseStyle,
  x: {domain: [2, 6], label: null},
  y: {domain: mdevDomain, label: null},
  marks: [
    Plot.dot(intervalRows, {x: "x", y: () => mdevDomain[0], r: 3.5, fill: "black", clip: true}),
    Plot.text(intervalRows, {x: "x", y: () => mdevDomain[0], text: "name", dy: -6, lineAnchor: "bottom", fill: "red", fontWeight: "bold", fontSize: 20}),
    Plot.dot(mdevRows, {x: "x", y: "y", r: 6.5, fill: "black"}),
    Plot.text(mdevRows, {x: "x", y: "y", text: "label", dy: -8, lineAnchor: "bottom", fill: "red", fontWeight: "bold", fontSize: 20}),
    ...frameAxes({xMajor: tauMajorTicks, xMinor: tauMinorTicks, yMajor: mdevTicks, yMinor: mdevMinorTicks, xFmt: d => String(d), yFmt: minus, xPad: 13}),
    Plot.frame({strokeWidth: 1.5})
  ]
});
place(p3, 0, 1490);
addText(p3, 438.9, 548.7, ["Averaging time, log(", {text: "\u03c4", family: SERIF}, ") (s)"]);
addText(p3, 84.6, 245.9, ["Modified Allan Deviation (10", {text: "-15", size: 20, dy: -12}, {text: ")", dy: 12}], {rotate: -90});
addText(p3, 203, 49, [{text: "\u03c4", family: SERIF}, " = 986s"], {anchor: "start", size: 17});

// ---- 4. time deviation ----
const p4 = Plot.plot({
  width: 744, height: 615,
  marginLeft: 109.8, marginRight: 95.3, marginTop: 21, marginBottom: 144.3,
  style: baseStyle,
  x: {domain: [1.754, 6], label: null},
  y: {domain: tdevDomain, label: null},
  marks: [
    Plot.dot(intervalRows, {x: "x", y: () => tdevDomain[0], r: 6.5, fill: "black", clip: true}),
    Plot.text(intervalRows, {x: "x", y: () => tdevDomain[0], text: "name", dy: -30, lineAnchor: "bottom", fill: "red", fontWeight: "bold", fontSize: 19}),
    Plot.dot(tdevRows, {x: "x", y: "y", r: 6.5, fill: "black"}),
    Plot.text(tdevRows, {x: "x", y: "y", text: "label", dy: -29, lineAnchor: "bottom", fill: "red", fontWeight: "bold", fontSize: 18}),
    ...frameAxes({xMajor: tauMajorTicks, xMinor: tauMinorTicks, yMajor: tdevTicks, yMinor: tdevMinorTicks, xFmt: d => String(d), yFmt: minus, xPad: 13}),
    Plot.frame({strokeWidth: 1.5})
  ]
});
place(p4, 744, 1490);
addText(p4, 379.25, 548.7, ["Averaging time, log(", {text: "\u03c4", family: SERIF}, ") (s)"]);
addText(p4, 25, 245.9, ["Time deviation (10", {text: "-10", size: 20, dy: -12}, {text: " s)", dy: 12}], {rotate: -90});
</script>
</body></html>
